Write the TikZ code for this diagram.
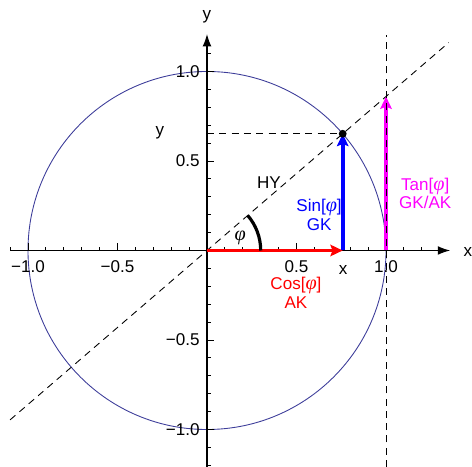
\documentclass[tikz,border=0pt]{standalone}
\usepackage{amsmath}
\usepackage{fontspec}
\setmainfont{Liberation Sans}
\newfontfamily\greekfont{Liberation Serif}
\usepackage{xcolor}
\usepackage{tikz}
\usetikzlibrary{positioning, arrows.meta}
\definecolor{circleblue}{RGB}{60,60,153}
\definecolor{vecred}{RGB}{255,0,0}
\definecolor{vecblue}{RGB}{0,0,255}
\definecolor{vecmagenta}{RGB}{255,0,255}
\newcommand{\phisym}{{\greekfont\itshape\fontsize{11.5}{10.5}\selectfont φ}}

\begin{document}
\begin{tikzpicture}[x=3.58cm, y=3.58cm, font=\fontsize{9.7}{10.5}\selectfont,
    vec/.style={line width=2.2pt, -{Stealth[length=7pt, width=6.5pt, inset=1.2pt]}},
    axis/.style={line width=0.6pt, -{Latex[length=7pt, width=5pt]}},
    guide/.style={dash pattern=on 4pt off 3pt, line width=0.5pt},
    ticklab/.style={inner sep=0pt},
    veclab/.style={align=center, inner sep=1pt}]
    \useasboundingbox (-1.1564,-1.2039) rectangle (1.4804,1.3994);
    \pgfmathsetmacro{\ang}{40.7}
    \pgfmathsetmacro{\cs}{cos(\ang)}
    \pgfmathsetmacro{\sn}{sin(\ang)}
    \pgfmathsetmacro{\tn}{tan(\ang)}
    \coordinate (O) at (0,0);
    \coordinate (A) at (\cs,0);
    \coordinate (P) at (\cs,\sn);
    \coordinate (Py) at (0,\sn);
    \coordinate (E) at (1,0);
    \coordinate (T) at (1,\tn);
    \coordinate (R) at (0.3,0);
    \coordinate (xmin) at (-1.1,0);
    \coordinate (xmax) at (1.358,0);
    \coordinate (ymin) at (0,-1.21);
    \coordinate (ymax) at (0,1.209);
    \coordinate (Dl) at (-1.1,{-1.1*\tn});
    \coordinate (Dr) at (1.35,{1.35*\tn});
    \coordinate (Vb) at (1,-1.21);
    \coordinate (Vt) at (1,1.204);
    \draw[circleblue, line width=0.5pt] (O) circle (1);
    \draw[axis] (xmin) -- (xmax);
    \draw[axis] (ymin) -- (ymax);
    \foreach \i in {-11,...,13}
    {
        \pgfmathsetmacro{\len}{ifthenelse(mod(\i,5)==0,0.04,0.021)}
        \draw[line width=0.5pt] (\i/10,0) -- ++(0,\len);
    }
    \foreach \i in {-12,...,11}
    {
        \pgfmathsetmacro{\len}{ifthenelse(mod(\i,5)==0,0.04,0.021)}
        \draw[line width=0.5pt] (0,\i/10) -- ++(\len,0);
    }
    \foreach \v/\s [count=\k] in {-1/{−1.0},-0.5/{−0.5},0.5/{0.5},1/{1.0}}
    {
        \node[ticklab] (xt\k) at (\v,-0.09) {\s};
        \node[ticklab, anchor=east] (yt\k) at (-0.04,\v) {\s};
    }
    \node (xlab) at (1.458,-0.011) {x};
    \node (ylab) at (0,1.304) {y};
    \draw[guide] (Dl) -- (Dr);
    \draw[guide] (Py) -- (P);
    \draw[vec, vecred] (O) -- (A);
    \draw[vec, vecblue] (A) -- (P);
    \draw[vec, vecmagenta] (E) -- (T);
    \draw[guide] (Vb) -- (Vt);
    \draw[line width=1.8pt] (R) arc[start angle=0, end angle=\ang, radius=0.3];
    \fill (P) circle (0.022);
    \node (phi) at (0.185,0.07) {\phisym};
    \node (hy) at (0.346,0.38) {HY};
    \node (ysin) at (-0.263,0.655) {y};
    \node (xcos) at (0.76,-0.109) {x};
    \node[veclab, vecblue] (sinlab) at (0.626,0.198) {Sin[\phisym]\\GK};
    \begin{scope}
        \clip (-1.1,-1.21) rectangle (1.358,1.21);
        \node[veclab, vecmagenta] (tanlab) at (1.219,0.32) {Tan[\phisym]\\GK/AK};
    \end{scope}
    \node[veclab, vecred] (coslab) at (0.497,-0.237) {Cos[\phisym]\\AK};
\end{tikzpicture}
\end{document}
